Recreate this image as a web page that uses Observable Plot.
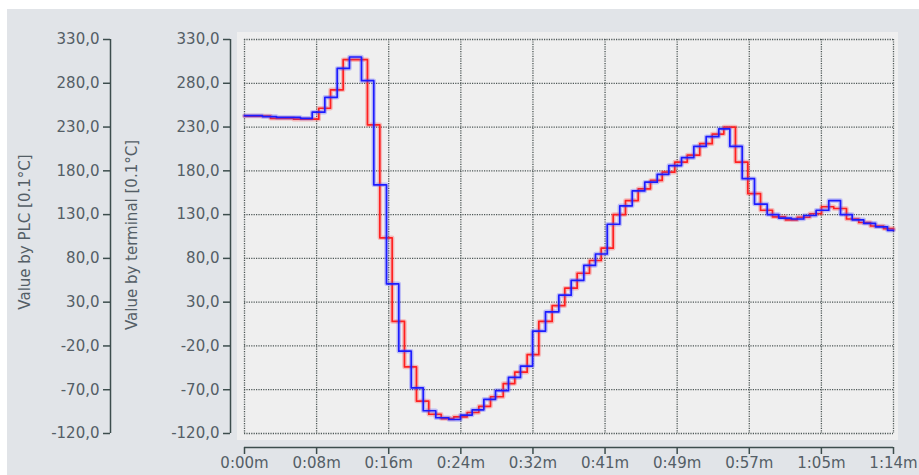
<!DOCTYPE html>
<html><head><meta charset="utf-8">
<script src="https://cdn.jsdelivr.net/npm/d3@7"></script>
<script src="https://cdn.jsdelivr.net/npm/@observablehq/plot@0.6"></script>
<style>
html,body{margin:0;padding:0;background:#fff;}
#wrap{position:relative;width:919px;height:475px;overflow:hidden;}
#panel{position:absolute;left:7px;top:9px;right:0;bottom:0;background:#e1e4e8;}
#area{position:absolute;left:237px;top:32px;width:661px;height:408px;background:#efefef;}
#chart{position:absolute;left:0;top:0;}
</style></head><body>
<div id="wrap"><div id="panel"></div><div id="area"></div><div id="chart"></div></div>
<script>
// x axis: minutes
const xTicks = [0, 8.222, 16.444, 24.667, 32.889, 41.111, 49.333, 57.556, 65.778, 74];
const xLabels = ["0:00m","0:08m","0:16m","0:24m","0:32m","0:41m","0:49m","0:57m","1:05m","1:14m"];
const yTicks = [330, 280, 230, 180, 130, 80, 30, -20, -70, -120];
const yLabelPLC = "Value by PLC [0.1°C]";
const yLabelTerminal = "Value by terminal [0.1°C]";

// blue series (terminal)
const blueTime = [0, 2.05, 3.65, 6.39, 7.72, 9.16, 10.57, 11.97, 13.34, 14.74, 16.19, 17.59, 19.01, 20.38, 21.81, 23.3, 24.63, 25.96, 27.29, 28.62, 30.10, 31.47, 32.85, 34.32, 35.84, 37.25, 38.69, 40.02, 41.36, 42.79, 44.21, 45.64, 47.06, 48.38, 49.83, 51.23, 52.64, 54.08, 55.34, 56.75, 58.15, 59.60, 60.92, 62.37, 63.77, 65.18, 66.62, 67.96, 69.29, 70.61, 71.95, 73.32, 74];
const blueValue = [243, 242, 241, 240, 247, 264, 297, 310, 283, 164, 51, -26, -68, -94, -102, -104, -99, -93, -81, -71, -56, -43, -3, 19, 38, 55, 72, 85, 119, 140, 157, 167, 176, 186, 195, 208, 219, 228, 208, 171, 142, 130, 126, 125, 129, 135, 146, 130, 124, 120, 116, 112, 112];

// red series (PLC)
const redTime = [0, 2.96, 5.59, 8.47, 9.81, 11.25, 14.02, 15.43, 16.84, 18.24, 19.61, 21.01, 22.43, 23.86, 25.39, 26.72, 28.05, 29.50, 30.82, 32.23, 33.56, 35.08, 36.52, 37.93, 39.34, 40.67, 42.04, 43.44, 44.89, 46.29, 47.63, 49.06, 50.48, 51.91, 53.33, 54.65, 55.98, 57.39, 58.84, 60.20, 61.68, 63.02, 64.46, 65.79, 67.19, 68.64, 70.04, 71.38, 72.86, 74];
const redValue = [242.5, 240, 239, 251.5, 272.5, 307, 232.5, 103.5, 8, -44, -83, -98, -103, -101, -96, -89, -78, -63, -50, -30, 8, 26, 46, 63, 77.6, 91.7, 130, 146, 159.5, 169, 178.5, 190, 198, 211, 222, 230, 190, 154, 135, 127.5, 124, 127, 131, 139, 137, 125, 121, 117, 114, 113];

const blue = blueTime.map((t, i) => ({t, v: blueValue[i]}));
const red = redTime.map((t, i) => ({t, v: redValue[i]}));

const fmtY = d => d.toFixed(1).replace(".", ",");
const fmtX = d => xLabels[xTicks.indexOf(d)];
const gridColor = "#4c5655";
const axisColor = "#3c4d4d";
const textColor = "#545e66";

const chart = Plot.plot({
  width: 919,
  height: 475,
  marginLeft: 244,
  marginRight: 26,
  marginTop: 39,
  marginBottom: 42,
  style: {fontFamily: "'DejaVu Sans', Verdana, sans-serif", fontSize: "15px", color: textColor, background: "transparent", overflow: "visible"},
  x: {domain: [0, 74], axis: null},
  y: {domain: [-120, 330], axis: null},
  marks: [
    Plot.ruleX(xTicks, {stroke: gridColor, strokeDasharray: "1.2,1.2", strokeWidth: 1.3}),
    Plot.ruleY(yTicks, {stroke: gridColor, strokeDasharray: "1.2,1.2", strokeWidth: 1.3}),
    Plot.line(red, {x: "t", y: "v", curve: "step-after", stroke: "#ff4040", strokeWidth: 4.5, strokeOpacity: 0.3}),
    Plot.line(red, {x: "t", y: "v", curve: "step-after", stroke: "#ff2020", strokeWidth: 1.7}),
    Plot.line(blue, {x: "t", y: "v", curve: "step-after", stroke: "#4a4aff", strokeWidth: 4.5, strokeOpacity: 0.3}),
    Plot.line(blue, {x: "t", y: "v", curve: "step-after", stroke: "#1c1cff", strokeWidth: 1.7}),
    // axis lines
    Plot.ruleX([0], {y1: -120, y2: 330, dx: -14, stroke: axisColor, strokeWidth: 1.5}),
    Plot.ruleX([0], {y1: -120, y2: 330, dx: -134, stroke: axisColor, strokeWidth: 1.5}),
    Plot.ruleY([-120], {x1: 0, x2: 74, dy: 14, stroke: axisColor, strokeWidth: 1.5}),
    Plot.axisY(yTicks, {anchor: "left", tickSize: 7, tickPadding: 4, dx: -14, tickFormat: fmtY, stroke: axisColor, strokeWidth: 1.5, fill: textColor, label: null}),
    Plot.axisY(yTicks, {anchor: "left", tickSize: 7, tickPadding: 4, dx: -134, tickFormat: fmtY, stroke: axisColor, strokeWidth: 1.5, fill: textColor, label: null}),
    Plot.axisX(xTicks, {anchor: "bottom", tickSize: 7, tickPadding: 3, dy: 14, tickFormat: fmtX, stroke: axisColor, strokeWidth: 1.5, fill: textColor, label: null})
  ]
});

const svg = d3.select(chart);
svg.append("text")
  .attr("transform", "translate(29.5,232) rotate(-90)")
  .attr("text-anchor", "middle")
  .attr("fill", textColor)
  .style("font-size", "15px")
  .text(yLabelPLC);
svg.append("text")
  .attr("transform", "translate(137,235) rotate(-90)")
  .attr("text-anchor", "middle")
  .attr("fill", textColor)
  .style("font-size", "15px")
  .text(yLabelTerminal);

document.getElementById("chart").appendChild(chart);
</script>
</body></html>
